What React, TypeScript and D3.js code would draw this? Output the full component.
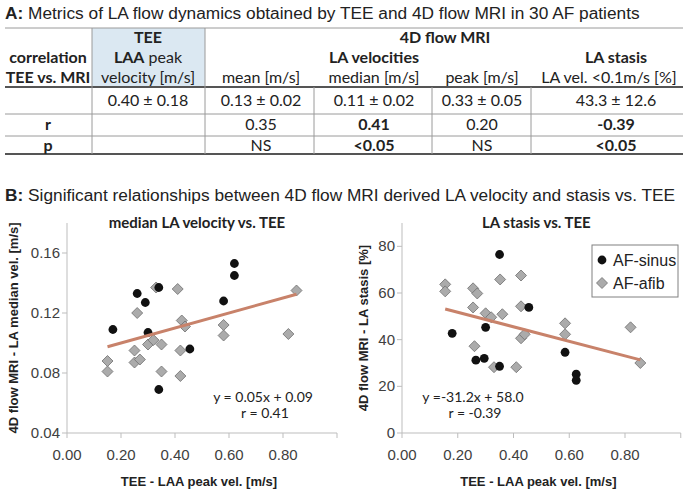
import React, { useEffect } from 'react';
import * as d3 from 'd3';

// ---- table data ----
const headerTop = ['TEE', '4D flow MRI'];
const unitLabels = ['mean [m/s]', 'median [m/s]', 'peak [m/s]', 'LA vel. <0.1m/s [%]'];
const meanSdRow = ['0.40 ± 0.18', '0.13 ± 0.02', '0.11 ± 0.02', '0.33 ± 0.05', '43.3 ± 12.6'];
const rRow = ['', '0.35', '0.41', '0.20', '-0.39'];
const pRow = ['', 'NS', '<0.05', 'NS', '<0.05'];
const significant = [false, false, true, false, true];

// ---- scatter data: median LA velocity vs TEE ----
const medianSinusX = [0.17, 0.3, 0.455, 0.34, 0.26, 0.29, 0.34, 0.62, 0.62, 0.58];
const medianSinusY = [0.109, 0.107, 0.096, 0.069, 0.133, 0.127, 0.137, 0.153, 0.145, 0.128];
const medianAfibX = [0.33, 0.41, 0.26, 0.425, 0.437, 0.25, 0.3, 0.32, 0.35, 0.42, 0.15, 0.15, 0.25, 0.27, 0.35, 0.42, 0.58, 0.58, 0.82, 0.85];
const medianAfibY = [0.137, 0.136, 0.12, 0.115, 0.111, 0.095, 0.099, 0.102, 0.099, 0.095, 0.088, 0.081, 0.087, 0.089, 0.081, 0.078, 0.112, 0.105, 0.106, 0.135];
const medianFit = { slope: 0.05, intercept: 0.09 };

// ---- scatter data: LA stasis vs TEE ----
const stasisSinusX = [0.35, 0.455, 0.18, 0.3, 0.265, 0.295, 0.35, 0.585, 0.625, 0.625];
const stasisSinusY = [76.5, 53.8, 42.7, 45.3, 31.2, 32, 28.6, 34.6, 25.2, 22.6];
const stasisAfibX = [0.155, 0.155, 0.255, 0.27, 0.352, 0.427, 0.255, 0.427, 0.3, 0.32, 0.36, 0.26, 0.33, 0.41, 0.427, 0.44, 0.585, 0.585, 0.82, 0.855];
const stasisAfibY = [63.7, 60.7, 62, 59.8, 65.8, 67.5, 53.8, 54.3, 51.3, 49.6, 50.9, 37.2, 28.2, 28.2, 40.6, 42.3, 47, 42.3, 45.3, 30];
const stasisFit = { slope: -31.2, intercept: 58.0 };

const xTicks = [0, 0.2, 0.4, 0.6, 0.8, 1.0];
const xTickLabels = ['0.00', '0.20', '0.40', '0.60', '0.80', ''];
const medianTicks = [0.04, 0.08, 0.12, 0.16];
const stasisTicks = [0, 20, 40, 60, 80];

const ARIAL = 'Liberation Sans, Arial, sans-serif';
const CALIBRI = 'Lato, Carlito, sans-serif';
const TXT = '#222';
const AXIS = '#bdbdbd';
const FIT = '#c8826a';

const diamond = (x: number, y: number, r: number) =>
  `M${x},${y - r}L${x + r},${y}L${x},${y + r}L${x - r},${y}Z`;

function Scatter({ x0, x1, yDomain, yTicks, fmt, sinusX, sinusY, afibX, afibY, fit, title, yTitle, yTitleX, eq, eqX, legend }: any) {
  const x = d3.scaleLinear().domain([0, 1]).range([x0, x1]);
  const y = d3.scaleLinear().domain(yDomain).range([433, 223]);
  const allX = sinusX.concat(afibX);
  const [fx0, fx1] = d3.extent(allX) as [number, number];
  const line = d3.line<number>().x(d => x(d)).y(d => y(fit.slope * d + fit.intercept));
  const cx = (x0 + x1) / 2;
  return (
    <g>
      <text x={cx - 5} y={228} textAnchor="middle" fontFamily={CALIBRI} fontWeight={700} fontSize={15} fill={TXT}>{title}</text>
      <line x1={x0} x2={x0} y1={y(yDomain[1])} y2={y(yDomain[0])} stroke={AXIS} />
      <line x1={x0} x2={x1} y1={y(yDomain[0])} y2={y(yDomain[0])} stroke={AXIS} />
      {yTicks.map((t: number) => (
        <g key={t}>
          <line x1={x0 - 5} x2={x0} y1={y(t)} y2={y(t)} stroke={AXIS} />
          <text x={x0 - 7} y={y(t) + 5} textAnchor="end" fontFamily={ARIAL} fontSize={15} fill="#404040">{fmt(t)}</text>
        </g>
      ))}
      {xTicks.map((t, i) => (
        <g key={t}>
          <line x1={x(t)} x2={x(t)} y1={433} y2={438} stroke={AXIS} />
          <text x={x(t)} y={460} textAnchor="middle" fontFamily={ARIAL} fontSize={15} fill="#404040">{xTickLabels[i]}</text>
        </g>
      ))}
      <text x={x(0.5) - 3} y={486} textAnchor="middle" fontFamily={ARIAL} fontWeight={700} fontSize={13} fill={TXT}>TEE - LAA peak vel. [m/s]</text>
      <text transform={`translate(${yTitleX},328) rotate(-90)`} textAnchor="middle" dy="0.35em" fontFamily={ARIAL} fontWeight={700} fontSize={13} fill={TXT}>{yTitle}</text>
      {afibX.map((v: number, i: number) => (
        <path key={'a' + i} d={diamond(x(v), y(afibY[i]), 5.5)} fill="#ababab" stroke="#6e6e6e" strokeWidth={0.8} />
      ))}
      {sinusX.map((v: number, i: number) => (
        <circle key={'s' + i} cx={x(v)} cy={y(sinusY[i])} r={4.4} fill="#111" />
      ))}
      <path d={line([fx0, fx1]) as string} stroke={FIT} strokeWidth={3} fill="none" />
      <text x={eqX} y={402} textAnchor="middle" fontFamily={CALIBRI} fontSize={14} fill={TXT}>{eq[0]}</text>
      <text x={eqX + 2} y={418} textAnchor="middle" fontFamily={CALIBRI} fontSize={14} fill={TXT}>{eq[1]}</text>
      {legend && (
        <g>
          <rect x={592} y={245} width={86} height={52} fill="#fff" stroke="#808080" />
          <circle cx={602} cy={260} r={4.4} fill="#111" />
          <text x={613} y={266} fontFamily={ARIAL} fontSize={16} fill={TXT}>AF-sinus</text>
          <path d={diamond(602, 283, 5.5)} fill="#ababab" stroke="#6e6e6e" strokeWidth={0.8} />
          <text x={613} y={289} fontFamily={ARIAL} fontSize={16} fill={TXT}>AF-afib</text>
        </g>
      )}
    </g>
  );
}

function Table() {
  const colX = [48, 148, 261, 374, 482, 616];
  const rowY = [37, 57, 77, 100, 124, 145];
  const tf = { fontFamily: CALIBRI, fontSize: 16, fill: TXT, textAnchor: 'middle' as const, dy: '0.35em' };
  return (
    <g>
      <rect x={92} y={28} width={113} height={59} fill="#dbe8f2" />
      <line x1={5} x2={683} y1={28} y2={28} stroke="#9a9a9a" />
      <line x1={5} x2={683} y1={87} y2={87} stroke="#555" strokeWidth={2} />
      <line x1={5} x2={683} y1={114} y2={114} stroke="#9a9a9a" />
      <line x1={5} x2={683} y1={136} y2={136} stroke="#9a9a9a" />
      <line x1={5} x2={683} y1={154} y2={154} stroke="#555" strokeWidth={2} />
      {[92, 205].map(v => <line key={v} x1={v} x2={v} y1={28} y2={154} stroke="#9a9a9a" />)}
      {[314, 432, 531].map(v => <line key={v} x1={v} x2={v} y1={87} y2={154} stroke="#9a9a9a" />)}

      <text x={colX[1]} y={rowY[0]} {...tf} fontWeight={700}>{headerTop[0]}</text>
      <text x={445} y={rowY[0]} {...tf} fontWeight={700}>{headerTop[1]}</text>
      <text x={colX[0]} y={rowY[1]} {...tf} fontWeight={700}>correlation</text>
      <text x={colX[1]} y={rowY[1]} {...tf}><tspan fontWeight={700}>LAA</tspan> peak</text>
      <text x={colX[3]} y={rowY[1]} {...tf} fontWeight={700}>LA velocities</text>
      <text x={colX[5]} y={rowY[1]} {...tf} fontWeight={700}>LA stasis</text>
      <text x={colX[0]} y={rowY[2]} {...tf} fontWeight={700}>TEE vs. MRI</text>
      <text x={colX[1]} y={rowY[2]} {...tf}>velocity [m/s]</text>
      {unitLabels.map((u, i) => <text key={u} x={i === 3 ? 609 : colX[i + 2]} y={rowY[2]} {...tf}>{u}</text>)}
      {meanSdRow.map((v, i) => <text key={'m' + i} x={colX[i + 1]} y={rowY[3]} {...tf}>{v}</text>)}
      <text x={colX[0]} y={rowY[4]} {...tf} fontWeight={700}>r</text>
      <text x={colX[0]} y={rowY[5]} {...tf} fontWeight={700}>p</text>
      {rRow.map((v, i) => <text key={'r' + i} x={colX[i + 1]} y={rowY[4]} {...tf} fontWeight={significant[i] ? 700 : 400}>{v}</text>)}
      {pRow.map((v, i) => <text key={'p' + i} x={colX[i + 1]} y={rowY[5]} {...tf} fontWeight={significant[i] ? 700 : 400}>{v}</text>)}
    </g>
  );
}

export default function App() {
  useEffect(() => {
    document.body.style.margin = '0';
  }, []);
  return (
    <svg width={685} height={492} style={{ display: 'block', background: '#fff' }}>
      <text x={5} y={19} fontFamily={ARIAL} fontSize={17.3} fill={TXT}><tspan fontWeight={700}>A:</tspan> Metrics of LA flow dynamics obtained by TEE and 4D flow MRI in 30 AF patients</text>
      <Table />
      <text x={5} y={201} fontFamily={ARIAL} fontSize={17.3} fill={TXT}><tspan fontWeight={700}>B:</tspan> Significant relationships between 4D flow MRI derived LA velocity and stasis vs. TEE</text>
      <Scatter x0={67} x1={337} yDomain={[0.04, 0.18]} yTicks={medianTicks} fmt={(t: number) => t.toFixed(2)}
        sinusX={medianSinusX} sinusY={medianSinusY} afibX={medianAfibX} afibY={medianAfibY} fit={medianFit}
        title="median LA velocity vs. TEE" yTitle="4D flow MRI - LA median vel. [m/s]" yTitleX={13}
        eq={['y = 0.05x + 0.09', 'r = 0.41']} eqX={263} legend={false} />
      <Scatter x0={402} x1={680.75} yDomain={[0, 90]} yTicks={stasisTicks} fmt={(t: number) => String(t)}
        sinusX={stasisSinusX} sinusY={stasisSinusY} afibX={stasisAfibX} afibY={stasisAfibY} fit={stasisFit}
        title="LA stasis vs. TEE" yTitle="4D flow MRI - LA stasis [%]" yTitleX={363}
        eq={['y =-31.2x + 58.0', 'r = -0.39']} eqX={473} legend={true} />
    </svg>
  );
}
